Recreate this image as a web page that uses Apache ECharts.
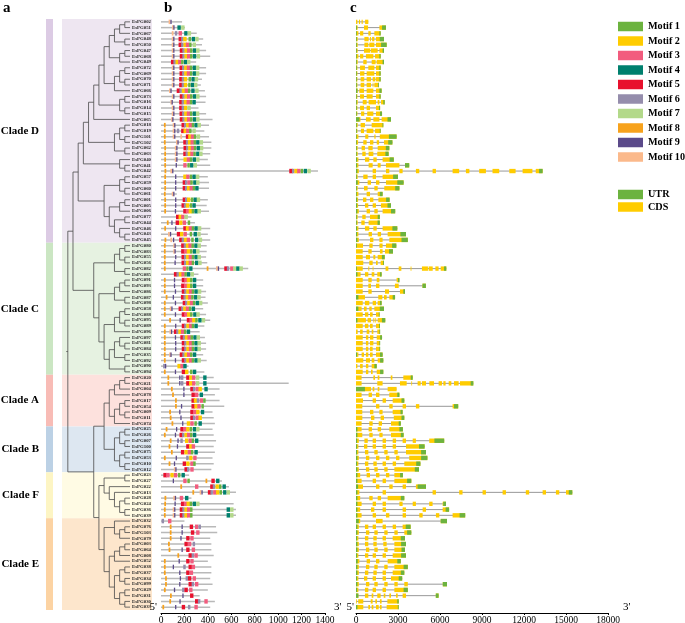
<!DOCTYPE html>
<html><head><meta charset="utf-8">
<script src="https://cdn.jsdelivr.net/npm/echarts/dist/echarts.min.js"></script>
<style>html,body{margin:0;padding:0;background:#fff}#c{width:685px;height:623px}</style>
</head><body><div id="c"></div><script>
// ---------------- DATA ----------------
const genes = [
"EsPG002","EsPG051","EsPG067","EsPG048","EsPG050","EsPG047","EsPG068","EsPG049","EsPG072","EsPG069","EsPG070","EsPG071","EsPG066","EsPG073","EsPG016","EsPG014","EsPG015","EsPG065","EsPG018","EsPG019","EsPG101","EsPG102","EsPG062","EsPG063","EsPG040","EsPG041","EsPG042","EsPG057","EsPG059","EsPG060","EsPG061","EsPG001","EsPG005","EsPG006","EsPG077","EsPG044","EsPG046","EsPG043","EsPG045",
"EsPG080","EsPG083","EsPG055","EsPG056","EsPG082","EsPG085","EsPG091","EsPG093","EsPG086","EsPG087","EsPG098","EsPG058","EsPG088","EsPG095","EsPG089","EsPG096","EsPG097","EsPG081","EsPG084","EsPG035","EsPG092","EsPG090","EsPG094",
"EsPG020","EsPG021","EsPG004","EsPG078","EsPG017","EsPG054","EsPG009","EsPG011","EsPG074",
"EsPG025","EsPG026","EsPG007","EsPG100","EsPG075","EsPG053","EsPG010","EsPG012",
"EsPG023","EsPG027","EsPG022","EsPG013","EsPG028","EsPG024","EsPG036","EsPG039",
"EsPG032","EsPG076","EsPG103","EsPG079","EsPG003","EsPG064","EsPG008","EsPG052","EsPG038","EsPG037","EsPG034","EsPG099","EsPG029","EsPG031","EsPG030","EsPG033"
];
const cladeNames = ["Clade D","Clade C","Clade A","Clade B","Clade F","Clade E"];
const cladeSizes = [39,23,9,8,8,16];

// tree topology (leaf names)
const dA1 = [["EsPG002","EsPG051"],"EsPG067"];
const dA2 = [dA1,["EsPG048","EsPG050"]];
const dA3 = [["EsPG047","EsPG068"],"EsPG049"];
const dA5 = [[["EsPG072","EsPG069"],["EsPG070","EsPG071"]],"EsPG066"];
const dA7 = [["EsPG073","EsPG016"],["EsPG014","EsPG015"]];
const dA9 = [[[dA2,dA3],dA5],dA7];
const dA10 = [[["EsPG018","EsPG019"],["EsPG101","EsPG102"]],["EsPG062","EsPG063"]];
const dUpper = [[[dA9,"EsPG065"],dA10],["EsPG040",["EsPG041","EsPG042"]]];
const dLower = [[["EsPG057","EsPG059"],["EsPG060","EsPG061"]],[[["EsPG001","EsPG005"],"EsPG006"],[["EsPG077","EsPG044"],["EsPG046",["EsPG043","EsPG045"]]]]];
const cladeDTree = [dUpper,dLower];
const c1 = [[["EsPG080","EsPG083"],["EsPG055","EsPG056"]],["EsPG082","EsPG085"]];
const c2 = [[["EsPG091","EsPG093"],"EsPG086"],["EsPG087","EsPG098"]];
const c3 = [[["EsPG058","EsPG088"],["EsPG095","EsPG089"]],"EsPG096"];
const c4 = [[["EsPG097",["EsPG081","EsPG084"]],["EsPG035","EsPG092"]],["EsPG090","EsPG094"]];
const cladeCTree = [c1,[c2,[c3,c4]]];
const cladeATree = [[[["EsPG020","EsPG021"],"EsPG004"],"EsPG078"],[[["EsPG017","EsPG054"],["EsPG009","EsPG011"]],"EsPG074"]];
const cladeBTree = [[["EsPG025","EsPG026"],["EsPG007","EsPG100"]],[["EsPG075","EsPG053"],["EsPG010","EsPG012"]]];
const cladeFTree = [["EsPG023","EsPG027"],["EsPG022",["EsPG013",[["EsPG028","EsPG024"],["EsPG036","EsPG039"]]]]];
const cladeETree = [["EsPG032",[["EsPG076","EsPG103"],"EsPG079"]],[[[["EsPG003","EsPG064"],"EsPG008"],"EsPG052"],[[["EsPG038","EsPG037"],["EsPG034","EsPG099"]],[["EsPG029","EsPG031"],["EsPG030","EsPG033"]]]]];
const treeRoot = [[cladeDTree,cladeCTree],[[cladeATree,cladeBTree],[cladeFTree,cladeETree]]];

// protein length (aa)
const proteinLength = [
180,205,305,360,350,385,420,300,385,385,350,340,375,385,380,320,385,440,410,370,410,430,430,420,400,420,1340,400,410,410,135,400,390,410,260,290,420,400,420,
390,390,385,395,745,320,360,360,385,380,400,360,385,420,370,330,375,385,385,360,390,235,370,
450,1090,500,460,500,540,440,450,460,
440,450,470,450,460,440,450,430,
240,520,580,640,260,620,640,640,
200,470,480,420,430,430,450,400,430,430,420,440,400,330,460,420
];
// motifs: flattened [motif id, start aa, ...]
const motifs = [
[10,65,9,80],
[10,95,9,105,4,140,7,172],
[10,92,6,118,3,150,4,198,7,228],
[10,92,9,104,5,150,6,172,2,190,1,235,4,262,7,292],
[10,92,9,104,5,150,6,172,2,192,3,212,1,240,7,270],
[10,92,9,104,5,160,6,182,2,200,3,222,1,248,4,272,7,300],
[10,92,9,104,5,160,6,182,2,200,3,222,1,248,4,272,7,305],
[5,85,6,106,2,124,3,146,1,172,4,196,7,222],
[10,92,9,104,5,158,6,180,2,198,3,220,1,246,4,270,7,298],
[10,92,9,104,5,158,6,180,2,198,3,220,1,246,4,270,7,298],
[10,92,9,104,5,155,6,177,2,195,1,235,4,260,7,288],
[10,92,9,104,5,155,6,177,2,195,1,232,4,255,7,282],
[10,68,9,80,5,134,6,157,2,178,3,202,1,230,4,258,7,292],
[10,92,9,104,5,160,6,182,2,200,3,222,1,248,4,272,7,300],
[10,80,9,90,5,155,6,176,2,195,3,218,1,246,4,268],
[10,92,9,104,5,155,6,176,2,196,7,225],
[10,92,9,104,5,158,6,180,2,198,3,220,1,246,4,270,7,298],
[10,86,9,96,5,160,6,182,2,200,3,222,1,248,4,272,7,300],
[8,25,10,100,9,112,5,175,6,196,2,214,3,236,1,262,4,285,7,312],
[8,25,10,100,9,112,6,135,5,172,2,192,3,214,1,240,7,268],
[8,25,10,100,9,112,10,165,5,212,2,232,3,254,1,280,7,305],
[8,25,10,128,9,140,5,190,6,212,2,230,3,252,1,278,4,300,7,330],
[8,28,10,118,9,130,5,192,6,214,2,232,3,254,1,280,4,304,7,332],
[8,28,10,118,9,130,5,190,6,210,2,228,3,250,1,276,4,300,7,326],
[8,28,10,118,9,130,2,192,3,220,1,246,4,270,7,300],
[8,28,9,125,3,190,1,225,4,248,7,278],
[8,30,10,80,9,95,5,1095,6,1118,2,1138,3,1162,1,1192,4,1218,7,1250],
[8,28,9,120,2,190,3,215,1,245,4,268,7,298],
[8,28,9,120,5,185,6,205,3,225,1,250,4,275,7,300],
[8,28,9,120,5,185,6,205,2,222,3,244,1,270,4,292],
[8,25,10,92,9,104],
[8,28,9,120,5,185,6,205,2,222,1,255,4,278,7,305],
[8,28,9,120,5,175,6,195,2,212,1,245,4,268],
[8,28,9,118,5,190,3,212,2,236,1,262,4,285,7,312],
[5,128,2,150,3,172,7,200],
[8,50,9,88,5,125,2,155,3,185,1,228],
[8,28,9,120,5,190,2,212,3,236,1,262,4,285,7,315],
[10,60,9,76,5,135,2,162,3,192,1,245,4,278,7,310],
[8,30,10,80,9,102,5,155,6,176,2,195,3,220,1,258,4,290,7,322],
[8,25,10,105,9,115,5,172,6,194,2,212,3,234,1,260,4,284,7,312],
[8,25,10,105,9,115,5,172,3,195,2,220,1,248,4,272,7,300],
[8,25,9,120,5,175,6,196,2,214,3,236,1,262,4,285,7,312],
[8,25,9,115,5,175,6,196,2,214,3,236,1,262,4,290,7,318],
[8,25,3,185,1,215,4,240,8,390,10,470,9,485,5,540,6,562,3,590,7,615,4,642,7,670],
[5,110,6,132,2,152,3,174,1,200,4,222,7,252],
[8,25,9,110,5,177,3,198,2,220,1,248,4,272],
[8,25,9,110,5,172,3,196,2,220,1,248,4,272],
[8,25,9,118,5,177,6,198,2,216,3,238,1,262,4,285,7,315],
[8,40,9,100,5,170,6,192,2,210,3,232,1,258,4,282,7,310],
[8,25,9,118,5,185,6,206,2,224,3,246,1,272,4,296,7,324],
[8,25,10,75,9,88,5,150,6,172,2,190,3,212,1,238,4,262],
[8,25,9,118,5,177,3,198,2,222,1,248,4,275,7,302],
[8,70,9,158,5,220,3,242,2,266,1,292,4,318,7,348],
[8,25,9,120,5,177,6,198,2,216,3,238,1,262,4,285],
[8,25,10,72,9,85,5,110,6,130,2,148,3,170,1,196,4,220],
[8,25,9,118,5,165,6,186,2,204,3,226,1,252,4,276,7,304],
[8,25,9,120,5,177,6,198,2,216,3,238,1,262,4,285,7,312],
[8,25,9,120,5,177,6,198,2,216,3,238,1,262,4,285,7,312],
[8,25,10,70,9,80,5,160,6,182,2,200,3,222,1,248,4,272],
[8,25,9,118,5,177,6,198,2,216,3,238,1,262,4,285,7,312],
[6,18,9,34,2,140,3,165,4,190],
[8,25,9,118,5,177,2,205,1,248,4,272],
[8,55,9,155,6,170,5,215,2,240,3,265,7,298,4,360],
[8,55,9,155,6,170,5,215,2,240,3,265,7,298,4,360],
[8,85,9,190,5,250,6,272,3,295,2,320,4,370],
[8,95,9,190,5,260,3,290,4,330],
[8,120,5,260,2,280,6,305,3,330,1,360],
[8,120,9,170,5,260,2,285,3,310,1,345],
[8,70,9,155,5,250,3,275,2,300,4,340],
[8,75,9,165,5,250,6,272,3,295,2,320],
[8,90,9,180,2,220,3,250,1,285,4,320],
[8,40,9,128,5,165,3,190,2,215,1,245,4,272,7,300],
[8,25,9,118,5,158,6,180,2,200,3,222,1,248,4,272],
[8,75,9,140,6,165,2,205,3,235,1,262,4,290],
[8,65,9,135,5,215,2,240,3,262],
[8,85,5,170,2,200,3,228,1,255,4,285],
[8,25,9,125,6,215,2,240,3,275],
[8,65,9,110,5,185,2,215,3,250,1,275],
[10,110,9,122,5,200,6,222,3,250],
[5,20,3,45,2,80,3,110,1,145,4,175],
[9,100,3,190,1,225,8,380,5,430,4,470],
[8,165,3,290,5,420,6,442,2,465,1,495,4,525],
[8,268,10,330,9,345,5,400,6,422,3,445,2,470,1,500,4,530,7,560],
[8,30,10,105,9,118,3,160,4,205],
[8,28,9,115,5,170,3,195,2,218,1,245,4,270,7,300],
[8,25,10,100,9,112,5,160,6,182,2,200,3,222,1,248,4,560,7,590],
[8,25,10,100,9,112,5,160,6,182,2,200,3,222,1,248,4,560,7,590],
[6,5,3,60],
[8,75,9,175,5,245,3,290,6,320],
[8,75,9,175,5,255,3,300],
[8,75,9,165,5,215,3,250],
[8,60,5,200,3,230,6,270],
[8,65,9,175,5,215,3,262],
[8,140,5,235,6,262,3,285],
[8,25,9,150,5,215,3,250],
[8,25,9,100,6,190,5,235,3,262],
[8,25,9,155,5,215,3,245],
[8,35,9,160,6,210,5,230,3,270],
[8,35,9,155,5,235,6,262,3,290],
[8,25,9,110,6,180,5,200,3,240],
[8,77,9,182,5,248],
[8,71,9,157,5,290,6,315,3,370],
[8,12,9,120,5,177,6,230,3,285]
];
const motifNames = ["Motif 1","Motif 2","Motif 3","Motif 4","Motif 5","Motif 6","Motif 7","Motif 8","Motif 9","Motif 10"];
const motifWidth = [21,29,29,29,29,21,29,15,11,15];

// gene structure: exons flattened [start,end,...] in bp, plus UTR lengths
const exons = [
[0,100,210,290,400,480,650,880],
[0,120,570,860,1670,2140],
[0,170,290,520,880,1050,1310,1760],
[0,120,600,900,1000,1070,1150,1310,1430,2000],
[0,120,600,880,950,1310,1430,2190],
[0,120,570,1000,1050,1550,1670,2000],
[0,170,290,520,710,1240,1360,1760],
[0,120,520,760,1120,1400,1480,2000],
[0,100,290,640,880,1310,1430,1760],
[0,100,290,600,760,1310,1430,1760],
[0,100,330,590,760,1070,1190,1380,1430,1760],
[0,100,330,590,760,1070,1190,1240,1310,1620],
[0,120,240,570,760,1240,1430,1830],
[0,100,290,570,760,1190,1430,1760],
[0,120,480,760,900,1430,1550,1670,1790,2050],
[0,100,290,570,760,1000,1430,1720],
[0,100,360,590,800,1240,1430,1860],
[0,320,710,1050,1240,1670,1830,2500],
[0,120,330,640,1120,1950],
[0,100,350,570,760,1240,1360,1760],
[0,170,660,880,1310,1400,1700,2900],
[0,150,520,760,1000,1240,1480,1650,2000,2600],
[0,120,400,640,880,1190,1550,2380],
[0,120,450,690,900,1240,1520,2330],
[0,170,640,950,1240,1480,1900,2700],
[0,170,900,1190,1550,1760,2140,3100,3500,3800],
[0,200,1190,1430,2140,2380,3100,3330,4280,4520,5470,5710,6900,7370,7850,8100,8800,9280,9750,10230,10950,11400,11900,12600,12840,13330],
[0,120,520,830,1190,1430,1900,3000],
[0,240,830,1070,1430,1670,2140,3400],
[0,120,570,830,1310,1550,2020,3100],
[0,170,760,1000,1550,1900],
[0,150,500,740,1000,1240,1600,2400],
[0,150,640,880,1190,1430,1780,2500],
[0,200,760,1000,1310,1550,1900,2800],
[0,120,450,690,1000,1700],
[0,120,380,620,900,1700],
[0,170,640,950,1240,1480,1900,2950],
[0,170,900,1140,1550,1790,2260,3570],
[0,200,1000,1240,1670,1900,2380,3700],
[0,500,950,1190,1670,1900,2140,2880],
[0,480,880,1120,1710,1900,2070,2640],
[0,480,710,1000,1240,1380,1550,2050],
[0,520,950,1190,1430,1550,1760,2000],
[0,480,880,950,1190,1240,2110,2310,3050,3240,3900,3960,4710,5140,5190,5480,5670,5900,6050,6450],
[0,330,640,880,1120,1310,1520,1830],
[0,480,880,1120,1480,1670,2900,3100],
[0,480,880,1070,1430,1670,2780,3050,4750,4990],
[0,480,880,1120,2070,2360,3140,3500],
[0,640,1590,1880,2000,2190,2380,2790],
[0,480,640,950,1190,1430,1550,1830],
[0,400,570,760,950,1120,1310,2000],
[0,480,640,880,1000,1190,1430,1670],
[0,710,830,1070,1240,1310,1380,1430,1550,2090],
[0,480,640,880,1000,1190,1430,1710],
[0,120,290,480,760,950,1120,1240,1520,1710],
[0,480,710,880,1000,1240,1480,1860],
[0,480,710,880,1000,1240,1480,1710],
[0,480,710,880,1000,1190,1430,1710],
[0,170,400,570,710,880,1000,1190,1430,1900],
[0,520,710,1000,1120,1310,1550,1950],
[0,100,290,480,710,880,1120,1480],
[0,480,710,880,1070,1190,1480,1950],
[0,400,1240,1360,1550,1670,2480,2600,3380,4050],
[0,400,1520,1900,3140,3620,3950,4000,4400,4620,4710,5000,5240,5570,5900,6140,6240,6400,6620,6810,7000,7330,7430,8380],
[0,1070,1190,1310,1550,1670,2260,2900],
[0,400,900,1140,1430,1670,2380,3100],
[0,500,1190,1430,1900,2140,2620,3450],
[0,450,1430,1670,2380,2620,3330,3570,4280,4520,6900,7300],
[0,450,1000,1240,1670,1900,2620,3330],
[0,450,1070,1310,1760,2000,2700,3450],
[0,400,950,1190,1620,1860,2500,3200],
[0,400,900,1140,1550,1790,2380,3350],
[0,450,950,1190,1670,1900,2500,3400],
[0,200,600,840,1190,1430,1900,2140,2620,2860,3330,3570,4050,4280,5230,6300],
[0,170,570,810,1190,1430,1900,2140,2620,2860,3570,4900],
[0,170,640,880,1310,1550,2020,2260,2740,2980,3570,5000],
[0,200,710,950,1430,1670,2140,2380,2860,3100,3800,5100],
[0,170,640,880,1240,1480,1900,2140,2620,2860,3450,4600],
[0,200,710,950,1310,1550,2020,2260,2740,4500],
[0,300,760,1000,1430,1670,2140,2380,2740,3350],
[0,400,1190,1430,1900,2140,2740,3950],
[0,500,1430,1670,2380,2620,3330,3570,4280,5000],
[0,240,1900,2140,5470,5710,7370,7610,9040,9280,10470,10710,12130,12370,13330,13570,14280,14520,15000,15450],
[0,300,950,1190,1550,1790,2260,3450],
[0,400,1190,1430,1900,2140,3100,3330,4050,4280,5230,5470,6190,6430],
[0,300,1070,1310,1900,2140,3330,3570,4760,5000,6190,6650],
[0,400,1190,1430,2140,2380,3330,3570,4520,4760,5710,5950,6900,7800],
[0,300,1430,1900,6050,6500],
[0,200,640,880,1190,1430,1900,2140,2620,2860,3330,3900],
[0,200,710,950,1310,1550,2020,2260,2740,2980,3450,3950],
[0,170,640,880,1240,1480,1900,2140,2620,3500],
[0,200,640,880,1240,1480,1950,2190,2740,3570],
[0,200,710,950,1310,1550,2020,2260,2740,3500],
[0,170,640,880,1190,1430,1900,2140,2620,3570],
[0,240,760,1000,1430,1670,2260,3200],
[0,200,710,950,1310,1550,2020,2260,2740,3700],
[0,200,640,880,1240,1480,1900,2140,2620,3450],
[0,170,570,810,1190,1430,1900,2140,2500,3300],
[0,200,710,950,1310,1550,2020,2260,2740,2980,3450,3700,6200,6500],
[0,170,640,880,1190,1430,1900,2140,2740,3700],
[0,170,640,880,1120,1240,1520,1760,1980,2100,2380,2500,2860,2980,3330,3570,5700,5900],
[0,40,160,520,1050,1190,1380,1500,1710,1830,2240,3050],
[0,520,880,1000,1120,1240,1430,1620,1710,1830,2190,3050]
];
const utr5 = [
0,60,50,50,50,50,50,50,50,50,50,50,100,50,50,50,50,250,50,50,50,50,50,50,80,80,100,50,120,50,50,80,80,100,50,50,80,80,100,
60,0,0,0,50,100,0,0,0,170,0,170,0,100,0,0,0,0,0,80,0,0,0,
0,0,640,0,0,0,0,0,0,
100,100,80,80,80,100,80,100,
100,100,150,100,100,100,100,100,
200,100,100,80,100,100,80,120,100,100,80,100,80,170,0,100
];
const utr3 = [
0,280,90,300,400,100,90,100,90,90,90,40,160,90,100,80,150,250,60,60,550,300,250,230,300,300,250,350,450,300,200,250,250,300,150,160,350,400,450,
300,280,200,60,160,120,100,240,120,170,120,300,40,240,60,40,140,40,40,190,230,170,230,
140,190,0,150,200,300,150,200,150,
250,200,700,400,350,450,300,300,
200,300,600,250,250,200,250,400,
450,350,300,300,350,250,350,250,300,250,250,300,300,200,100,60
];
const motifAxis = {min:0, max:1400, interval:200};
const geneAxis = {min:0, max:18000, interval:3000};

// ---------------- STYLE ----------------
const motifColors = ['#6cb33f','#ffcc00','#f25c7e','#00806e','#e8112d','#958dac','#b3d98a','#f7a21c','#5b4a8a','#fbb98b'];
const utrColor = '#6cb33f', cdsColor = '#ffcc00';
const cladeStrip = ['#dccbe4','#cbe6c3','#f8bcb6','#bcd1e5','#fdf5c4','#fcd3a3'];
const cladeBg = ['#eee6f1','#e6f2e1','#fde1dd','#dde7f1','#fffbe4','#fde6cc'];
const SERIF = '"Liberation Serif","Times New Roman","DejaVu Serif",serif';

// ---------------- BUILD ----------------
const N = genes.length;
const cladeStart = []; {let a=0; cladeSizes.forEach(s=>{cladeStart.push(a); a+=s;});}

const treeSegs = [];
function layout(node){
  if (typeof node === 'string') return {y: genes.indexOf(node), h: 0};
  const kids = node.map(layout);
  const h = Math.max(...kids.map(k=>k.h)) + 1;
  const y0 = kids[0].y, y1 = kids[kids.length-1].y;
  treeSegs.push([h, y0, h, y1]);
  kids.forEach(k=>treeSegs.push([h, k.y, k.h, k.y]));
  return {y:(y0+y1)/2, h};
}
const rootInfo = layout(treeRoot);
treeSegs.push([rootInfo.h, rootInfo.y, rootInfo.h+0.3, rootInfo.y]);

const TOP = 19, BOTTOM = 13;
const grids = [
  {left:46, width:7, top:TOP, bottom:BOTTOM},
  {left:62, width:90, top:TOP, bottom:BOTTOM},
  {left:66, width:64, top:TOP, bottom:BOTTOM},
  {left:161, width:164, top:TOP, bottom:BOTTOM},
  {left:356, width:252, top:TOP, bottom:BOTTOM}
].map(g=>Object.assign(g,{outerBoundsMode:'none', containLabel:false}));

const hiddenX = gi => ({gridIndex:gi, type:'value', min:0, max:1, show:false});
const rowY = gi => ({gridIndex:gi, type:'value', min:-0.5, max:N-0.5, inverse:true, show:false});
function realAxis(gi, sc, gap){
  return {gridIndex:gi, type:'value', position:'bottom', offset:3, min:sc.min, max:sc.max, interval:sc.interval,
    axisLine:{show:true, onZero:false, lineStyle:{color:'#000', width:1}},
    axisTick:{show:true, length:2, lineStyle:{color:'#000'}},
    axisLabel:{margin:2, fontFamily:SERIF, fontSize:9.5, color:'#000', formatter:v=>String(v)},
    splitLine:{show:false},
    name:"3'", nameLocation:'end', nameGap:gap,
    nameTextStyle:{fontFamily:SERIF, fontSize:11, color:'#000', verticalAlign:'bottom', padding:[0,0,0,0]}};
}

const xAxis = [hiddenX(0), hiddenX(1),
  {gridIndex:2, type:'value', min:0, max:rootInfo.h+0.35, inverse:true, show:false},
  realAxis(3, motifAxis, 9), realAxis(4, geneAxis, 15)];
const yAxis = [rowY(0), rowY(1), rowY(2), rowY(3), rowY(4)];

function bandRender(kind){
  return function(params, api){
    const k = params.dataIndex;
    const s = cladeStart[k], e = s + cladeSizes[k] - 1;
    const p0 = api.coord([0, s-0.5]), p1 = api.coord([1, e+0.5]);
    const ch = [{type:'rect', shape:{x:p0[0], y:p0[1], width:p1[0]-p0[0], height:p1[1]-p0[1]},
      style:{fill: kind==='strip'?cladeStrip[k]:cladeBg[k]}}];
    if (kind==='strip'){
      ch.push({type:'text', x:p0[0]-7, y:(p0[1]+p1[1])/2,
        style:{text:cladeNames[k], fill:'#000', font:'bold 11px '+SERIF, align:'right', verticalAlign:'middle', textAlign:'right', textVerticalAlign:'middle'}});
    }
    return {type:'group', children:ch};
  };
}
function treeRender(params, api){
  const a = api.coord([api.value(0), api.value(1)]);
  const b = api.coord([api.value(2), api.value(3)]);
  return {type:'line', shape:{x1:a[0], y1:a[1], x2:b[0], y2:b[1]}, style:{stroke:'#4a4a4a', lineWidth:0.8}};
}
function nameRender(params, api){
  const i = params.dataIndex;
  const p = api.coord([0, i]);
  return {type:'text', x:p[0]+2, y:p[1],
    style:{text:genes[i], fill:'#222', font:'bold 4.8px '+SERIF, align:'left', verticalAlign:'middle', textAlign:'left', textVerticalAlign:'middle'}};
}
function fivePrime(api, i, gap){
  const p = api.coord([0, N-0.5]);
  return {type:'text', x:p[0]-gap, y:p[1]+3, z2:10,
    style:{text:"5'", fill:'#000', font:'11px '+SERIF, align:'right', verticalAlign:'bottom', textAlign:'right', textVerticalAlign:'bottom'}};
}
function motifRender(params, api){
  const i = params.dataIndex;
  const h = api.size([0,1])[1];
  const p0 = api.coord([0,i]);
  const x1 = api.coord([proteinLength[i], i])[0];
  const y = p0[1];
  const ch = [{type:'line', shape:{x1:p0[0], y1:y, x2:x1, y2:y}, style:{stroke:'#b9b9b9', lineWidth:1.5}}];
  const m = motifs[i];
  for (let k=0;k<m.length;k+=2){
    const id = m[k], s = m[k+1];
    const a = api.coord([s,i])[0], b = api.coord([s+motifWidth[id-1], i])[0];
    ch.push({type:'rect', shape:{x:a, y:y-h*0.39, width:b-a, height:h*0.78}, style:{fill:motifColors[id-1]}});
  }
  if (i === N-1) ch.push(fivePrime(api, i, 4));
  return {type:'group', children:ch};
}
function geneRender(params, api){
  const i = params.dataIndex;
  const h = api.size([0,1])[1];
  const ex = exons[i];
  const end = ex[ex.length-1];
  const p0 = api.coord([0,i]);
  const y = p0[1];
  const ch = [{type:'line', shape:{x1:p0[0], y1:y, x2:api.coord([end,i])[0], y2:y}, style:{stroke:'#8c8c8c', lineWidth:0.9}}];
  const u5 = utr5[i], u3 = utr3[i];
  const rect = (s,e,c)=>{const a=api.coord([s,i])[0], b=api.coord([e,i])[0];
    ch.push({type:'rect', shape:{x:a, y:y-h*0.38, width:Math.max(b-a,0.8), height:h*0.76}, style:{fill:c}});};
  for (let k=0;k<ex.length;k+=2){
    const s=ex[k], e=ex[k+1];
    rect(s,e,cdsColor);
    if (u5>0 && s<u5) rect(s, Math.min(e,u5), utrColor);
    if (u3>0 && e>end-u3) rect(Math.max(s,end-u3), e, utrColor);
  }
  if (i === N-1) ch.push(fivePrime(api, i, 2));
  return {type:'group', children:ch};
}

const rows = genes.map((g,i)=>[0,i]);
const series = [
  {type:'custom', xAxisIndex:1, yAxisIndex:1, renderItem:bandRender('bg'), data:cladeNames.map((n,k)=>[0,cladeStart[k]]), silent:true, z:1},
  {type:'custom', xAxisIndex:0, yAxisIndex:0, renderItem:bandRender('strip'), data:cladeNames.map((n,k)=>[0,cladeStart[k]]), silent:true, z:1, clip:false},
  {type:'custom', xAxisIndex:2, yAxisIndex:2, renderItem:treeRender, data:treeSegs, encode:{x:[0,2], y:[1,3]}, silent:true, z:3, clip:false},
  {type:'custom', xAxisIndex:2, yAxisIndex:2, renderItem:nameRender, data:rows, encode:{x:0,y:1}, silent:true, z:4, clip:false},
  {type:'custom', xAxisIndex:3, yAxisIndex:3, renderItem:motifRender, data:rows, encode:{x:0,y:1}, silent:true, z:6, clip:false},
  {type:'custom', xAxisIndex:4, yAxisIndex:4, renderItem:geneRender, data:rows, encode:{x:0,y:1}, silent:true, z:6, clip:false}
];
motifNames.forEach((n,k)=>series.push({type:'scatter', name:n, xAxisIndex:3, yAxisIndex:3, data:[], itemStyle:{color:motifColors[k], opacity:1}}));
series.push({type:'scatter', name:'UTR', xAxisIndex:4, yAxisIndex:4, data:[], itemStyle:{color:utrColor, opacity:1}});
series.push({type:'scatter', name:'CDS', xAxisIndex:4, yAxisIndex:4, data:[], itemStyle:{color:cdsColor, opacity:1}});

const legendText = {fontFamily:SERIF, fontWeight:'bold', fontSize:10.2, color:'#000', overflow:'none'};
const option = {
  animation:false,
  backgroundColor:'#fff',
  grid:grids, xAxis, yAxis, series,
  legend:[
    {data:motifNames, orient:'vertical', left:618, top:21.5, itemWidth:25, itemHeight:9.5, itemGap:4.5, icon:'rect', padding:0, selectedMode:false, textStyle:legendText, itemStyle:{opacity:1}},
    {data:['UTR','CDS'], orient:'vertical', left:618, top:189.5, itemWidth:25, itemHeight:9.5, itemGap:2.5, icon:'rect', padding:0, selectedMode:false, textStyle:legendText, itemStyle:{opacity:1}}
  ],
  graphic:[
    {type:'text', left:3, top:1, style:{text:'a', font:'bold 15px '+SERIF, fill:'#000'}},
    {type:'text', left:164, top:1, style:{text:'b', font:'bold 15px '+SERIF, fill:'#000'}},
    {type:'text', left:350, top:1, style:{text:'c', font:'bold 15px '+SERIF, fill:'#000'}}
  ]
};
const chart = echarts.init(document.getElementById('c'), null, {renderer:'canvas'});
chart.setOption(option);
</script></body></html>
